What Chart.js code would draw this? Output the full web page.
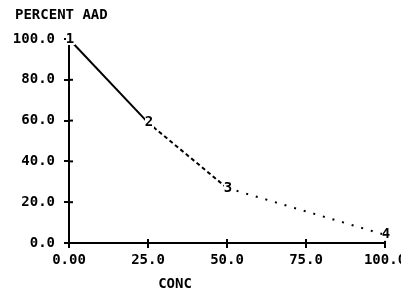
<!DOCTYPE html>
<html>
<head>
<meta charset="utf-8">
<script src="https://cdn.jsdelivr.net/npm/chart.js@4/dist/chart.umd.min.js"></script>
<style>
  html, body { margin: 0; padding: 0; background: #fff; }
  #wrap { width: 401px; height: 293px; }
</style>
</head>
<body>
<div id="wrap"><canvas id="chart" width="401" height="293"></canvas></div>
<script>
// data
const concValues = [0, 25, 50, 100];
const percentAad = [100, 59, 27, 4];
const pointNames = ['1', '2', '3', '4'];
const xTickLabels = ['0.00', '25.0', '50.0', '75.0', '100.0'];
const yTickLabels = ['0.0', '20.0', '40.0', '60.0', '80.0', '100.0'];

const FONT = 'bold 14px "DejaVu Sans Mono", monospace';

// labels on the points, inner half of the tick marks, axis titles
const decorPlugin = {
    id: 'decor',
    afterDraw(chart) {
        const ctx = chart.ctx;
        const area = chart.chartArea;
        const xs = chart.scales.x, ys = chart.scales.y;
        ctx.save();
        ctx.strokeStyle = '#000';
        ctx.lineWidth = 2;
        ys.ticks.forEach(t => {
            const y = ys.getPixelForValue(t.value);
            ctx.beginPath(); ctx.moveTo(area.left, y); ctx.lineTo(area.left + 4, y); ctx.stroke();
        });
        xs.ticks.forEach(t => {
            const x = xs.getPixelForValue(t.value);
            ctx.beginPath(); ctx.moveTo(x, area.bottom); ctx.lineTo(x, area.bottom - 4); ctx.stroke();
        });

        ctx.fillStyle = '#000';
        ctx.font = FONT;
        ctx.textAlign = 'center';
        ctx.textBaseline = 'middle';
        const meta = chart.getDatasetMeta(0);
        meta.data.forEach((pt, i) => {
            ctx.fillStyle = '#fff';
            ctx.fillRect(pt.x - 3, pt.y - 6, 9, 12);
            ctx.fillStyle = '#000';
            ctx.fillText(pointNames[i], pt.x + 1, pt.y);
        });

        ctx.textAlign = 'left';
        ctx.fillText('PERCENT AAD', 15, 15);
        ctx.textAlign = 'center';
        ctx.fillText('CONC', 175, 284);
        ctx.restore();
    }
};

new Chart(document.getElementById('chart'), {
    type: 'line',
    data: {
        datasets: [{
            data: concValues.map((c, i) => ({ x: c, y: percentAad[i] })),
            borderColor: '#000',
            borderWidth: 2,
            pointRadius: 0,
            tension: 0,
            clip: false,
            segment: {
                borderDash: ctx => ctx.p0DataIndex === 0 ? [] : (ctx.p0DataIndex === 1 ? [4, 3] : [2, 8])
            }
        }]
    },
    options: {
        responsive: false,
        animation: false,
        layout: { padding: { top: 39, right: 16, left: 0, bottom: 0 } },
        plugins: { legend: { display: false }, tooltip: { enabled: false } },
        scales: {
            x: {
                type: 'linear',
                min: 0, max: 100,
                border: { color: '#000', width: 2 },
                grid: { drawOnChartArea: false, color: '#000', lineWidth: 2, tickLength: 5 },
                ticks: {
                    stepSize: 25, color: '#000', padding: 4, maxRotation: 0,
                    font: { family: '"DejaVu Sans Mono", monospace', size: 14, weight: 'bold' },
                    callback: (v, i) => xTickLabels[i]
                },
                afterFit: s => { s.height = 50; s.paddingRight = 0; s.paddingLeft = 0; }
            },
            y: {
                min: 0, max: 100,
                border: { color: '#000', width: 2 },
                grid: { drawOnChartArea: false, color: '#000', lineWidth: 2, tickLength: 5 },
                ticks: {
                    stepSize: 20, color: '#000', padding: 9,
                    font: { family: '"DejaVu Sans Mono", monospace', size: 14, weight: 'bold' },
                    callback: (v, i) => yTickLabels[i]
                },
                afterFit: s => { s.width = 69; }
            }
        }
    },
    plugins: [decorPlugin]
});
</script>
</body>
</html>
